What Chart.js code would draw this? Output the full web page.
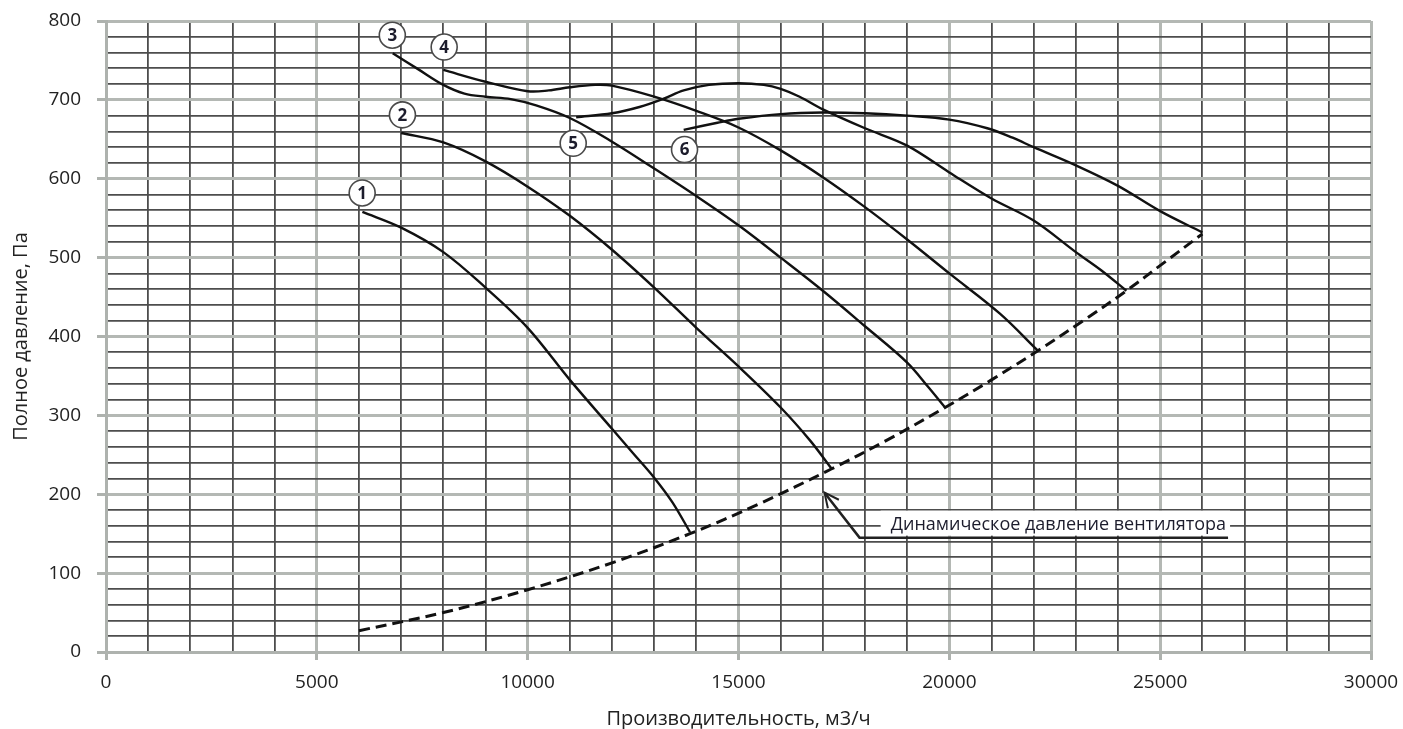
<!DOCTYPE html>
<html>
<head>
<meta charset="utf-8">
<script src="https://cdn.jsdelivr.net/npm/chart.js@4.4.1/dist/chart.umd.min.js"></script>
<style>
  html, body { margin: 0; padding: 0; background: #fff; }
  .chart-container { width: 1403px; height: 729px; }
</style>
</head>
<body>
<div class="chart-container">
  <canvas id="myChart" width="1403" height="729"></canvas>
</div>
<script>
// curves: [flow m3/h, pressure Pa]
const curve1 = [[6080, 558], [7000, 538], [8000, 507], [9000, 462], [10000, 411], [11000, 345], [12000, 283], [12500, 252], [13000, 221], [13430, 190], [13850, 152]];
const curve2 = [[7000, 658], [8000, 646], [9000, 622], [10000, 590], [11000, 553], [12000, 510], [13000, 462], [14000, 411], [15000, 362], [16000, 310], [16700, 268], [17200, 233]];
const curve3 = [[6800, 759], [7400, 739], [8000, 719], [8500, 708], [9000, 704], [9600, 701], [10200, 693], [11000, 677], [12000, 647], [13000, 613], [14000, 578], [15000, 541], [16000, 500], [17000, 458], [18000, 413], [19000, 367], [19500, 336], [19900, 310]];
const curve4 = [[8000, 738], [9000, 723], [10000, 711], [10500, 712], [11000, 716], [11600, 719], [12000, 718], [13000, 704], [14000, 686], [15000, 665], [16000, 636], [17000, 602], [18000, 564], [19000, 523], [20000, 480], [21200, 429], [22100, 382]];
const curve5 = [[11150, 678], [12000, 683], [12650, 691], [13200, 701], [13700, 712], [14300, 719], [15000, 721], [15600, 719], [16000, 714], [16450, 704], [17000, 688], [18000, 664], [19000, 642], [20000, 608], [21000, 575], [22000, 547], [23000, 507], [23600, 484], [24200, 458]];
const curve6 = [[13700, 662], [14500, 671], [15000, 676], [16000, 682], [17000, 684], [18000, 683], [19000, 680], [20000, 675], [20900, 664], [21500, 652], [22000, 640], [23000, 617], [24000, 591], [25000, 559], [26000, 532]];
const dynamicPressure = [[6000, 27], [8000, 50], [10000, 79], [12000, 113], [13850, 150], [15500, 188], [17200, 232], [18500, 268], [19900, 310], [21000, 345], [22100, 382], [23200, 421], [24200, 458], [25100, 494], [26000, 530]];

const curveNames = ['1', '2', '3', '4', '5', '6'];
const nameX = [6075, 7030, 6790, 8020, 11080, 13720];
const nameY = [582, 681, 782, 767, 645, 637];

const noteText = 'Динамическое давление вентилятора';
const noteTip = [17040, 202];
const noteCorner = [17870, 145];
const noteEnd = [26610, 145];

const xMax = 30000;
const yMax = 800;

Chart.defaults.font.family = "'Open Sans', sans-serif";
Chart.defaults.color = '#222';

const toPoints = (arr) => arr.map(([x, y]) => ({ x, y }));

const solid = (arr) => ({
  data: toPoints(arr),
  borderColor: '#111',
  borderWidth: 2.4,
  pointRadius: 0,
  showLine: true,
  tension: 0.35,
});

const isMajorX = (v) => v % 5000 === 0;
const isMajorY = (v) => v % 100 === 0;

// number badges and the arrow note
const markers = {
  id: 'markers',
  afterDatasetsDraw(chart) {
    const { ctx, scales: { x, y } } = chart;
    ctx.save();

    curveNames.forEach((name, i) => {
      const px = x.getPixelForValue(nameX[i]);
      const py = y.getPixelForValue(nameY[i]);
      ctx.beginPath();
      ctx.arc(px, py, 13, 0, Math.PI * 2);
      ctx.fillStyle = '#fff';
      ctx.fill();
      ctx.lineWidth = 1.6;
      ctx.strokeStyle = '#4a4a4a';
      ctx.stroke();
      ctx.fillStyle = '#1c1c2c';
      ctx.font = "bold 17px 'Open Sans', sans-serif";
      ctx.textAlign = 'center';
      ctx.textBaseline = 'middle';
      ctx.fillText(name, px, py + 1);
    });

    const tx = x.getPixelForValue(noteTip[0]);
    const ty = y.getPixelForValue(noteTip[1]);
    const cx = x.getPixelForValue(noteCorner[0]);
    const cy = y.getPixelForValue(noteCorner[1]);
    const ex = x.getPixelForValue(noteEnd[0]);

    // text box hides the grid behind it
    ctx.font = "18px 'Open Sans', sans-serif";
    const w = ctx.measureText(noteText).width;
    ctx.fillStyle = '#fff';
    ctx.fillRect(ex - w - 12, cy - 27, w + 14, 25);
    ctx.fillStyle = '#1c1c2c';
    ctx.textAlign = 'right';
    ctx.textBaseline = 'alphabetic';
    ctx.fillText(noteText, ex - 2, cy - 8);

    ctx.strokeStyle = '#222';
    ctx.lineWidth = 2.5;
    ctx.beginPath();
    ctx.moveTo(ex, cy);
    ctx.lineTo(cx, cy);
    ctx.lineTo(tx, ty);
    ctx.stroke();

    const a = Math.atan2(cy - ty, cx - tx);
    ctx.lineWidth = 2;
    ctx.beginPath();
    ctx.moveTo(tx + 16 * Math.cos(a - 0.45), ty + 16 * Math.sin(a - 0.45));
    ctx.lineTo(tx, ty);
    ctx.lineTo(tx + 16 * Math.cos(a + 0.45), ty + 16 * Math.sin(a + 0.45));
    ctx.stroke();

    ctx.restore();
  },
};

const ctx = document.getElementById('myChart').getContext('2d');

new Chart(ctx, {
  type: 'scatter',
  data: {
    datasets: [
      solid(curve1),
      solid(curve2),
      solid(curve3),
      solid(curve4),
      solid(curve5),
      solid(curve6),
      {
        data: toPoints(dynamicPressure),
        borderColor: '#111',
        borderWidth: 3,
        borderDash: [11, 6],
        pointRadius: 0,
        showLine: true,
        tension: 0.35,
      },
    ],
  },
  options: {
    responsive: false,
    animation: false,
    layout: { padding: { top: 21, right: 32, left: 0, bottom: 0 } },
    plugins: {
      legend: { display: false },
      tooltip: { enabled: false },
    },
    scales: {
      x: {
        type: 'linear',
        min: 0,
        max: xMax,
        afterFit(scale) {
          scale.height = 77;
          scale.paddingLeft = 0;
          scale.paddingRight = 0;
        },
        border: { color: '#aeb2ae', width: 3 },
        grid: {
          color: (c) => (isMajorX(c.tick.value) ? '#b4b8b4' : '#4d4d4d'),
          lineWidth: (c) => (isMajorX(c.tick.value) ? 3 : 1.8),
          tickColor: (c) => (isMajorX(c.tick.value) ? '#aeb2ae' : 'rgba(0,0,0,0)'),
          tickLength: 8,
          tickWidth: 3,
        },
        ticks: {
          stepSize: 1000,
          autoSkip: false,
          maxRotation: 0,
          padding: 11,
          font: { size: 19 },
          callback: (v) => (isMajorX(v) ? String(v) : ''),
        },
        title: {
          display: true,
          text: 'Производительность, м3/ч',
          font: { size: 20, lineHeight: 1 },
          padding: { top: 0, bottom: 0 },
        },
      },
      y: {
        min: 0,
        max: yMax,
        afterFit(scale) {
          scale.width = 106;
          scale.paddingTop = 0;
          scale.paddingBottom = 0;
        },
        border: { color: '#aeb2ae', width: 3 },
        grid: {
          color: (c) => (isMajorY(c.tick.value) ? '#b4b8b4' : '#4d4d4d'),
          lineWidth: (c) => (isMajorY(c.tick.value) ? 3 : 1.8),
          tickColor: (c) => (isMajorY(c.tick.value) ? '#aeb2ae' : 'rgba(0,0,0,0)'),
          tickLength: 9,
          tickWidth: 3,
        },
        ticks: {
          stepSize: 20,
          autoSkip: false,
          padding: 16,
          font: { size: 19 },
          callback: (v) => (isMajorY(v) ? String(v) : ''),
        },
        title: {
          display: true,
          text: 'Полное давление, Па',
          font: { size: 20, lineHeight: 1 },
          padding: { top: 11, bottom: 0 },
        },
      },
    },
  },
  plugins: [markers],
});
</script>
</body>
</html>
